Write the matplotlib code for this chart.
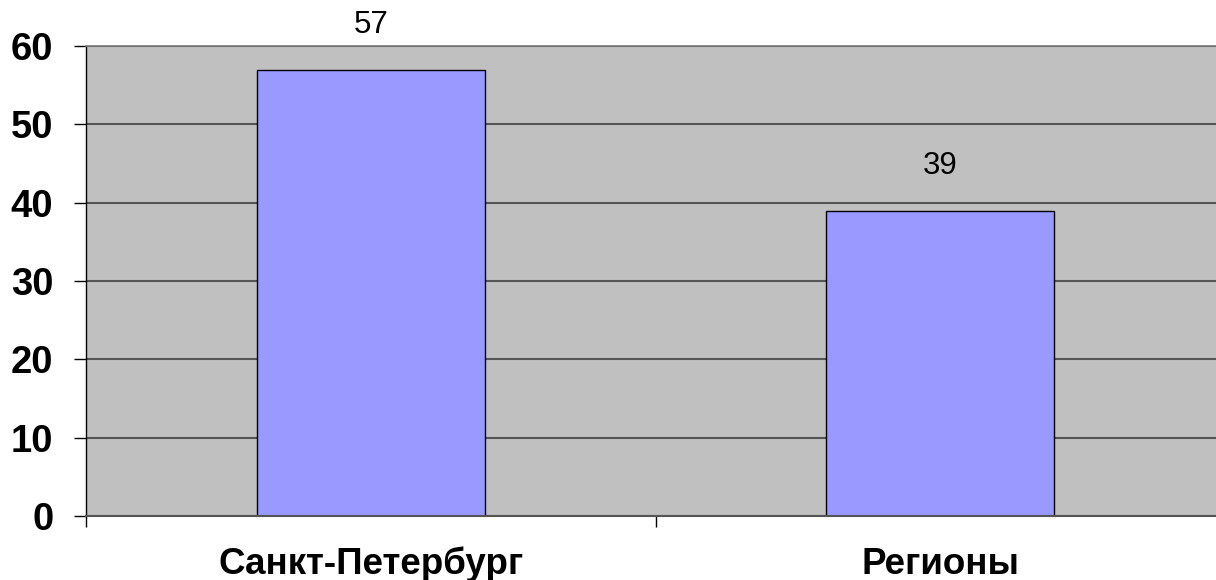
import matplotlib.pyplot as plt
import numpy as np

plt.rcParams['font.family'] = ['Liberation Sans', 'DejaVu Sans']

categories = ["Санкт-Петербург", "Регионы"]
values = [57, 39]
yticks = [0, 10, 20, 30, 40, 50, 60]

fig = plt.figure(figsize=(12.16, 5.8), dpi=100)
# plot area runs slightly past the right edge of the picture, as in the original
ax = fig.add_axes([86 / 1216, 64 / 580, 1139 / 1216, 470 / 580])
ax.set_facecolor("#c0c0c0")

x = np.arange(len(categories))
ax.set_axisbelow(True)
ax.yaxis.grid(True, color="#555555", lw=1.5)
bars = ax.bar(x, values, width=0.4, color="#9999ff", edgecolor="black", lw=1)

for xi, v in zip(x, values):
    ax.annotate(str(v), (xi, v), xytext=(0, 32), textcoords="offset points",
                ha="center", va="center", fontsize=22.5)

ax.set_xlim(-0.5, len(categories) - 0.5)
ax.set_ylim(0, 60)
ax.set_yticks(yticks)
ax.set_yticklabels([str(t) for t in yticks], fontsize=27.5, fontweight="bold")
ax.tick_params(axis="y", length=8.5, width=1, color="black", pad=15)

ax.set_xticks(x)
ax.set_xticklabels(categories, fontsize=26.5, fontweight="bold")
ax.set_xticks(np.arange(len(categories) + 1) - 0.5, minor=True)
ax.tick_params(axis="x", which="major", length=0, pad=22)
ax.tick_params(axis="x", which="minor", length=8, width=1, color="black")

ax.spines["left"].set_color("black")
ax.spines["left"].set_linewidth(1)
ax.spines["bottom"].set_color("#555555")
ax.spines["bottom"].set_linewidth(1.5)
ax.spines["top"].set_color("#777777")
ax.spines["top"].set_linewidth(1.2)
ax.spines["right"].set_visible(False)

fig.savefig("out.png", dpi=100)
